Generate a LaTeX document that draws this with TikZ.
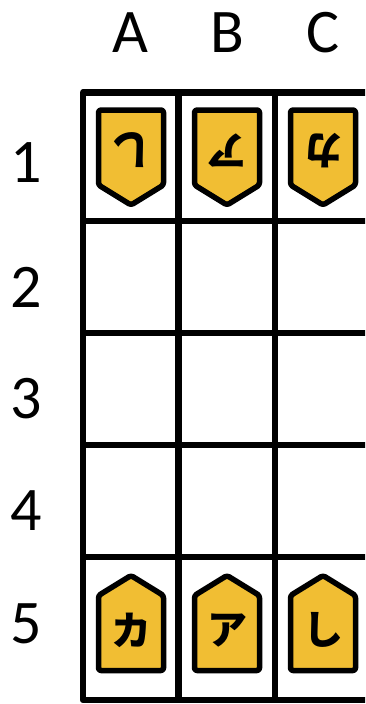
\documentclass[tikz,border=0pt]{standalone}
\usepackage{fontspec}
\setmainfont{Carlito}
\newfontfamily\jpfont{Noto Sans CJK JP}
\definecolor{komayellow}{RGB}{241,190,51}

\begin{document}
\begin{tikzpicture}[x=1pt, y=-1pt,
  gridline/.style={line width=6.5pt, line join=round},
  piece/.style={fill=komayellow, draw=black, line width=5.5pt, rounded corners=2.5pt, line join=round},
  piecetext/.style={font=\jpfont\bfseries\fontsize{40}{40}\selectfont},
  boardlabel/.style={anchor=base, font=\fontsize{62}{62}\selectfont}]

\useasboundingbox (0,0) rectangle (365,704);
\clip (0,0) rectangle (365,704);

% 列标 A B C
\foreach \x/\c in {130/A, 227/B, 323/C}
  \node[boardlabel] (col\c) at (\x,52) {\c};

% 行标 1--5
\foreach \y/\r in {182/1, 307/2, 418/3, 530/4, 643/5}
  \node[boardlabel] (row\r) at (26,\y) {\r};

% 棋盘
\draw[gridline] (83,92.5) rectangle (371,700);
\foreach \x in {178.5, 275}
  \draw[gridline] (\x,92.5) -- (\x,700);
\foreach \y in {221, 333, 445, 557}
  \draw[gridline] (83,\y) -- (371,\y);

% 第5行：己方棋子
\foreach \x/\ch in {131/カ, 227/ア, 323/し}
{
  \begin{scope}[shift={(\x,623)}]
    \draw[piece] (-32.5,47.5) -- (-32.5,-27.5) -- (0,-47.5) -- (32.5,-27.5) -- (32.5,47.5) -- cycle;
    \node[piecetext] at (0,7) {\ch};
  \end{scope}
}

% 第1行：对方棋子（旋转180°）
\foreach \x/\ch in {131/し, 227/ア, 323/カ}
{
  \begin{scope}[shift={(\x,157.5)}, rotate=180]
    \draw[piece] (-32.5,47.5) -- (-32.5,-27.5) -- (0,-47.5) -- (32.5,-27.5) -- (32.5,47.5) -- cycle;
    \node[piecetext, rotate=180] at (0,7) {\ch};
  \end{scope}
}

\end{tikzpicture}
\end{document}
